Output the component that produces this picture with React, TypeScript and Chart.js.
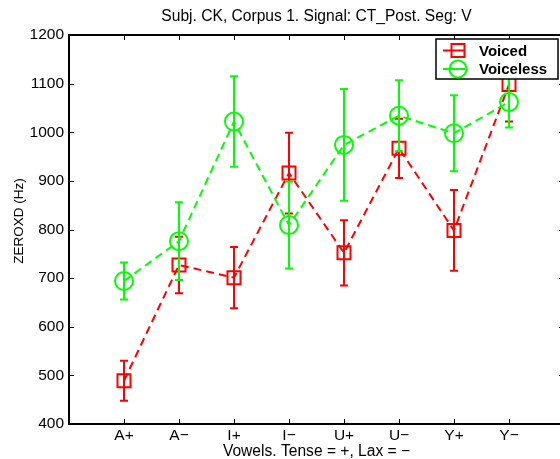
import React, { useEffect, useRef } from "react";
import { Chart, registerables } from "chart.js";

Chart.register(...registerables);

// ---- Data ----
const categories = ["A+", "A\u2212", "I+", "I\u2212", "U+", "U\u2212", "Y+", "Y\u2212"];
const seriesNames = ["Voiced", "Voiceless"];
const voicedMean = [489, 727, 701, 916, 752, 967, 798, 1098];
const voicedErr = [41, 58, 63, 83, 67, 61, 83, 76];
const voicelessMean = [694, 776, 1022, 809, 974, 1034, 998, 1062];
const voicelessErr = [38, 80, 93, 89, 115, 73, 78, 52];
const yMin = 400;
const yMax = 1200;
const yStep = 100;
const chartTitle = "Subj. CK, Corpus 1. Signal: CT_Post. Seg: V";
const xTitle = "Vowels. Tense = +, Lax = \u2212";
const yTitle = "ZEROXD (Hz)";

const FONT = "'Liberation Sans', Arial, Helvetica, sans-serif";
const RED = "#ff0000";
const GREEN = "#00ff00";

const errorBarPlugin = {
  id: "errorBars",
  beforeDatasetDraw(chart: any, args: any) {
    const ds = chart.data.datasets[args.index];
    const errs: number[] = ds.errors;
    if (!errs) return;
    const ctx = chart.ctx;
    const xs = chart.scales.x;
    const ys = chart.scales.y;
    const ca = chart.chartArea;
    ctx.save();
    ctx.beginPath();
    ctx.rect(ca.left, ca.top, ca.right - ca.left, ca.bottom - ca.top);
    ctx.clip();
    ctx.strokeStyle = ds.borderColor;
    ctx.lineWidth = 2;
    ctx.setLineDash([]);
    ds.data.forEach((p: any, i: number) => {
      const x = xs.getPixelForValue(p.x);
      const yt = ys.getPixelForValue(p.y + errs[i]);
      const yb = ys.getPixelForValue(p.y - errs[i]);
      ctx.beginPath();
      ctx.moveTo(x, yt);
      ctx.lineTo(x, yb);
      ctx.moveTo(x - 4, yt);
      ctx.lineTo(x + 4, yt);
      ctx.moveTo(x - 4, yb);
      ctx.lineTo(x + 4, yb);
      ctx.stroke();
    });
    ctx.restore();
  },
};

const framePlugin = {
  id: "frame",
  afterDatasetsDraw(chart: any) {
    const ctx = chart.ctx;
    const ca = chart.chartArea;
    const xs = chart.scales.x;
    const ys = chart.scales.y;
    ctx.save();
    ctx.setLineDash([]);
    ctx.strokeStyle = "#000";
    // ticks
    ctx.lineWidth = 1;
    ctx.beginPath();
    xs.ticks.forEach((t: any) => {
      const x = Math.round(xs.getPixelForValue(t.value)) + 0.5;
      ctx.moveTo(x, ca.bottom);
      ctx.lineTo(x, ca.bottom - 5);
      ctx.moveTo(x, ca.top);
      ctx.lineTo(x, ca.top + 5);
    });
    ys.ticks.forEach((t: any) => {
      const y = Math.round(ys.getPixelForValue(t.value)) + 0.5;
      ctx.moveTo(ca.left, y);
      ctx.lineTo(ca.left + 5, y);
      ctx.moveTo(ca.right, y);
      ctx.lineTo(ca.right - 5, y);
    });
    ctx.stroke();
    // frame
    ctx.lineWidth = 2;
    ctx.strokeRect(ca.left, ca.top, ca.right - ca.left, ca.bottom - ca.top);
    ctx.fillStyle = "#000";
    // chart title, centred over the plot area
    ctx.font = `15.6px ${FONT}`;
    ctx.textAlign = "center";
    ctx.textBaseline = "middle";
    ctx.fillText(chartTitle, (ca.left + ca.right) / 2, 16.5);
    // y title
    ctx.font = `13.5px ${FONT}`;
    ctx.translate(19, 221);
    ctx.rotate(-Math.PI / 2);
    ctx.fillText(yTitle, 0, 0);
    ctx.restore();
  },
};

const legendPlugin = {
  id: "customLegend",
  afterDraw(chart: any) {
    const ctx = chart.ctx;
    const ca = chart.chartArea;
    const bx = ca.right - 128;
    const by = ca.top + 4;
    const bw = 122;
    const bh = 40;
    ctx.save();
    ctx.setLineDash([]);
    ctx.fillStyle = "#fff";
    ctx.fillRect(bx, by, bw, bh);
    ctx.strokeStyle = "#000";
    ctx.lineWidth = 1.5;
    ctx.strokeRect(bx, by, bw, bh);
    chart.data.datasets.forEach((ds: any, i: number) => {
      const cy = by + 11.5 + i * 18.5;
      const mx = bx + 22;
      ctx.strokeStyle = ds.borderColor;
      ctx.lineWidth = 2;
      ctx.beginPath();
      ctx.moveTo(bx + 7, cy);
      ctx.lineTo(bx + 29, cy);
      ctx.stroke();
      ctx.beginPath();
      if (ds.pointStyle === "circle") {
        ctx.arc(mx, cy, 8.5, 0, Math.PI * 2);
      } else {
        ctx.rect(mx - 6.5, cy - 6.5, 13, 13);
      }
      ctx.stroke();
      ctx.fillStyle = "#000";
      ctx.font = `bold 15px ${FONT}`;
      ctx.textAlign = "left";
      ctx.textBaseline = "middle";
      ctx.fillText(ds.label, bx + 43, cy + 1);
    });
    ctx.restore();
  },
};

export default function App() {
  const ref = useRef<HTMLCanvasElement | null>(null);

  useEffect(() => {
    if (!ref.current) return;
    const mk = (arr: number[]) => arr.map((v, i) => ({ x: i + 1, y: v }));
    const chart = new Chart(ref.current, {
      type: "line",
      data: {
        datasets: [
          {
            label: seriesNames[0],
            data: mk(voicedMean),
            errors: voicedErr,
            borderColor: RED,
            backgroundColor: "transparent",
            borderWidth: 2,
            borderDash: [8, 5],
            pointStyle: "rect",
            pointRadius: 9.2,
            pointBorderWidth: 2,
            pointBorderColor: RED,
            pointBackgroundColor: "transparent",
            tension: 0,
            order: 1,
          } as any,
          {
            label: seriesNames[1],
            data: mk(voicelessMean),
            errors: voicelessErr,
            borderColor: GREEN,
            backgroundColor: "transparent",
            borderWidth: 2,
            borderDash: [8, 5],
            pointStyle: "circle",
            pointRadius: 9,
            pointBorderWidth: 2,
            pointBorderColor: GREEN,
            pointBackgroundColor: "transparent",
            tension: 0,
            order: 0,
          } as any,
        ],
      },
      options: {
        responsive: false,
        animation: false,
        events: [],
        layout: { autoPadding: false, padding: { left: 0, right: 8, top: 35, bottom: 0 } },
        plugins: {
          legend: { display: false },
          tooltip: { enabled: false },
          title: { display: false },
        },
        scales: {
          x: {
            type: "linear",
            min: 0,
            max: 9,
            afterBuildTicks: (s: any) => {
              s.ticks = categories.map((_, i) => ({ value: i + 1 }));
            },
            afterFit: (s: any) => {
              s.height = 35;
            },
            ticks: {
              autoSkip: false,
              maxRotation: 0,
              padding: 2,
              color: "#000",
              font: { family: FONT, size: 15.5, lineHeight: 1.2 },
              callback: (v: any) => categories[Math.round(v) - 1] ?? "",
            },
            grid: { display: false, drawTicks: false },
            border: { display: false },
            title: {
              display: true,
              text: xTitle,
              color: "#000",
              font: { family: FONT, size: 15.6, lineHeight: 1 },
              padding: { top: 0, bottom: 0 },
            },
          },
          y: {
            type: "linear",
            min: yMin,
            max: yMax,
            afterFit: (s: any) => {
              s.width = 69;
            },
            ticks: {
              stepSize: yStep,
              padding: 5,
              color: "#000",
              font: { family: FONT, size: 15.5 },
              callback: (v: any) => String(v),
            },
            grid: { display: false, drawTicks: false },
            border: { display: false },
          },
        },
      } as any,
      plugins: [errorBarPlugin, framePlugin, legendPlugin],
    });
    return () => chart.destroy();
  }, []);

  return (
    <div
      style={{
        position: "fixed",
        left: 0,
        top: 0,
        width: 560,
        height: 459,
        overflow: "hidden",
        background: "#fff",
      }}
    >
      <canvas ref={ref} width={572} height={459} style={{ display: "block" }} />
    </div>
  );
}
